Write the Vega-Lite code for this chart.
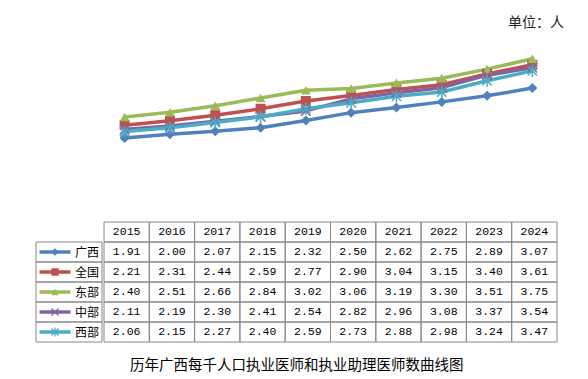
{
  "$schema": "https://vega.github.io/schema/vega-lite/v6.json",
  "background": "white",
  "padding": {"left": 35, "top": 16, "right": 0, "bottom": 0},
  "config": {"view": {"stroke": null}},
  "datasets": {
    "d": [
      {"region": "广西", "year": "2015", "value": 1.91},
      {"region": "广西", "year": "2016", "value": 2.00},
      {"region": "广西", "year": "2017", "value": 2.07},
      {"region": "广西", "year": "2018", "value": 2.15},
      {"region": "广西", "year": "2019", "value": 2.32},
      {"region": "广西", "year": "2020", "value": 2.50},
      {"region": "广西", "year": "2021", "value": 2.62},
      {"region": "广西", "year": "2022", "value": 2.75},
      {"region": "广西", "year": "2023", "value": 2.89},
      {"region": "广西", "year": "2024", "value": 3.07},
      {"region": "全国", "year": "2015", "value": 2.21},
      {"region": "全国", "year": "2016", "value": 2.31},
      {"region": "全国", "year": "2017", "value": 2.44},
      {"region": "全国", "year": "2018", "value": 2.59},
      {"region": "全国", "year": "2019", "value": 2.77},
      {"region": "全国", "year": "2020", "value": 2.90},
      {"region": "全国", "year": "2021", "value": 3.04},
      {"region": "全国", "year": "2022", "value": 3.15},
      {"region": "全国", "year": "2023", "value": 3.40},
      {"region": "全国", "year": "2024", "value": 3.61},
      {"region": "东部", "year": "2015", "value": 2.40},
      {"region": "东部", "year": "2016", "value": 2.51},
      {"region": "东部", "year": "2017", "value": 2.66},
      {"region": "东部", "year": "2018", "value": 2.84},
      {"region": "东部", "year": "2019", "value": 3.02},
      {"region": "东部", "year": "2020", "value": 3.06},
      {"region": "东部", "year": "2021", "value": 3.19},
      {"region": "东部", "year": "2022", "value": 3.30},
      {"region": "东部", "year": "2023", "value": 3.51},
      {"region": "东部", "year": "2024", "value": 3.75},
      {"region": "中部", "year": "2015", "value": 2.11},
      {"region": "中部", "year": "2016", "value": 2.19},
      {"region": "中部", "year": "2017", "value": 2.30},
      {"region": "中部", "year": "2018", "value": 2.41},
      {"region": "中部", "year": "2019", "value": 2.54},
      {"region": "中部", "year": "2020", "value": 2.82},
      {"region": "中部", "year": "2021", "value": 2.96},
      {"region": "中部", "year": "2022", "value": 3.08},
      {"region": "中部", "year": "2023", "value": 3.37},
      {"region": "中部", "year": "2024", "value": 3.54},
      {"region": "西部", "year": "2015", "value": 2.06},
      {"region": "西部", "year": "2016", "value": 2.15},
      {"region": "西部", "year": "2017", "value": 2.27},
      {"region": "西部", "year": "2018", "value": 2.40},
      {"region": "西部", "year": "2019", "value": 2.59},
      {"region": "西部", "year": "2020", "value": 2.73},
      {"region": "西部", "year": "2021", "value": 2.88},
      {"region": "西部", "year": "2022", "value": 2.98},
      {"region": "西部", "year": "2023", "value": 3.24},
      {"region": "西部", "year": "2024", "value": 3.47}
    ]
  },
  "title": {
    "text": "历年广西每千人口执业医师和执业助理医师数曲线图",
    "orient": "bottom",
    "anchor": "middle",
    "dx": -3,
    "offset": 16,
    "fontSize": 14.5,
    "font": "Noto Sans CJK SC",
    "fontWeight": "normal",
    "color": "#000"
  },
  "spacing": 0,
  "vconcat": [
    {
      "spacing": 0,
      "hconcat": [
        {
          "width": 66,
          "height": 172.4,
          "data": {"values": []},
          "mark": "point"
        },
        {
          "width": 453,
          "height": 172.4,
          "title": {
            "text": "单位：人",
            "anchor": "end",
            "dx": 9,
            "offset": 18,
            "fontSize": 14,
            "font": "Noto Sans CJK SC",
            "fontWeight": "normal",
            "color": "#222"
          },
          "data": {"name": "d"},
          "encoding": {
            "x": {"field": "year", "type": "ordinal", "scale": {"type": "point", "padding": 0.5, "domain": ["2015","2016","2017","2018","2019","2020","2021","2022","2023","2024"]}, "axis": null},
            "y": {"field": "value", "type": "quantitative", "scale": {"domain": [0, 4], "nice": false, "zero": true}, "axis": null},
            "color": {"field": "region", "type": "nominal", "scale": {"domain": ["广西","全国","东部","中部","西部"], "range": ["#4F81BD","#C0504D","#9BBB59","#8064A2","#4BACC6"]}, "legend": null}
          },
          "layer": [
            {"mark": {"type": "line", "strokeWidth": 3.5, "strokeJoin": "round"}},
            {
              "transform": [{"filter": "datum.region === '广西' || datum.region === '全国' || datum.region === '东部'"}],
              "mark": {"type": "point", "filled": true, "opacity": 1, "size": 100},
              "encoding": {
                "shape": {"field": "region", "type": "nominal", "scale": {"domain": ["广西","全国","东部","中部","西部"], "range": ["diamond","square","triangle-up","M-1,-1L1,1M-1,1L1,-1","M-1,-1L1,1M-1,1L1,-1M0,-1.3L0,1.3"]}, "legend": null}
              }
            },
            {
              "transform": [{"filter": "datum.region === '中部' || datum.region === '西部'"}],
              "mark": {"type": "point", "filled": false, "opacity": 1, "size": 90, "strokeWidth": 1.5},
              "encoding": {
                "shape": {"field": "region", "type": "nominal", "scale": {"domain": ["广西","全国","东部","中部","西部"], "range": ["diamond","square","triangle-up","M-1,-1L1,1M-1,1L1,-1","M-1,-1L1,1M-1,1L1,-1M0,-1.3L0,1.3"]}, "legend": null}
              }
            }
          ]
        }
      ]
    },
    {
      "spacing": 0,
      "hconcat": [
        {
          "width": 66,
          "height": 120,
          "data": {"name": "d"},
          "transform": [{"filter": "datum.year === '2015'"}],
          "encoding": {
            "y": {"field": "region", "type": "nominal", "scale": {"domain": ["hdr","广西","全国","东部","中部","西部"], "paddingInner": 0, "paddingOuter": 0}, "axis": null}
          },
          "layer": [
            {"mark": {"type": "rect", "fill": "transparent", "stroke": "#888", "strokeWidth": 1}},
            {
              "mark": {"type": "tick", "orient": "horizontal", "size": 31, "thickness": 3.5, "opacity": 1},
              "encoding": {
                "x": {"datum": "key", "type": "nominal", "scale": {"type": "point", "domain": ["key","label"], "padding": 0.53, "align": 0.56}, "axis": null},
                "color": {"field": "region", "type": "nominal", "scale": {"domain": ["广西","全国","东部","中部","西部"], "range": ["#4F81BD","#C0504D","#9BBB59","#8064A2","#4BACC6"]}, "legend": null}
              }
            },
            {
              "transform": [{"filter": "datum.region === '广西' || datum.region === '全国' || datum.region === '东部'"}],
              "mark": {"type": "point", "filled": true, "opacity": 1, "size": 55},
              "encoding": {
                "x": {"datum": "key", "type": "nominal", "axis": null},
                "color": {"field": "region", "type": "nominal", "legend": null},
                "shape": {"field": "region", "type": "nominal", "scale": {"domain": ["广西","全国","东部","中部","西部"], "range": ["diamond","square","triangle-up","M-1,-1L1,1M-1,1L1,-1","M-1,-1L1,1M-1,1L1,-1M0,-1.3L0,1.3"]}, "legend": null}
              }
            },
            {
              "transform": [{"filter": "datum.region === '中部' || datum.region === '西部'"}],
              "mark": {"type": "point", "filled": false, "opacity": 1, "size": 50, "strokeWidth": 1.3},
              "encoding": {
                "x": {"datum": "key", "type": "nominal", "axis": null},
                "color": {"field": "region", "type": "nominal", "legend": null},
                "shape": {"field": "region", "type": "nominal", "scale": {"domain": ["广西","全国","东部","中部","西部"], "range": ["diamond","square","triangle-up","M-1,-1L1,1M-1,1L1,-1","M-1,-1L1,1M-1,1L1,-1M0,-1.3L0,1.3"]}, "legend": null}
              }
            },
            {
              "mark": {"type": "text", "align": "center", "baseline": "middle", "font": "Noto Sans CJK SC", "fontSize": 12, "color": "#000", "dy": 1},
              "encoding": {
                "x": {"datum": "label", "type": "nominal", "axis": null},
                "text": {"field": "region", "type": "nominal"}
              }
            }
          ]
        },
        {
          "width": 453,
          "height": 120,
          "data": {"name": "d"},
          "encoding": {
            "x": {"field": "year", "type": "ordinal", "scale": {"domain": ["2015","2016","2017","2018","2019","2020","2021","2022","2023","2024"], "paddingInner": 0, "paddingOuter": 0}, "axis": null},
            "y": {"field": "region", "type": "nominal", "scale": {"domain": ["hdr","广西","全国","东部","中部","西部"], "paddingInner": 0, "paddingOuter": 0}, "axis": null}
          },
          "layer": [
            {"mark": {"type": "rect", "fill": "transparent", "stroke": "#888", "strokeWidth": 1}},
            {
              "transform": [{"filter": "datum.region === '广西'"}],
              "mark": {"type": "rect", "fill": "transparent", "stroke": "#888", "strokeWidth": 1},
              "encoding": {"y": {"datum": "hdr", "type": "nominal"}}
            },
            {
              "mark": {"type": "text", "align": "center", "baseline": "middle", "font": "Liberation Mono", "fontSize": 11.5, "color": "#000"},
              "encoding": {"text": {"field": "value", "type": "quantitative", "format": ".2f"}}
            },
            {
              "transform": [{"filter": "datum.region === '广西'"}],
              "mark": {"type": "text", "align": "center", "baseline": "middle", "font": "Liberation Mono", "fontSize": 11.5, "color": "#000"},
              "encoding": {
                "y": {"datum": "hdr", "type": "nominal"},
                "text": {"field": "year", "type": "nominal"}
              }
            }
          ]
        }
      ]
    }
  ]
}
